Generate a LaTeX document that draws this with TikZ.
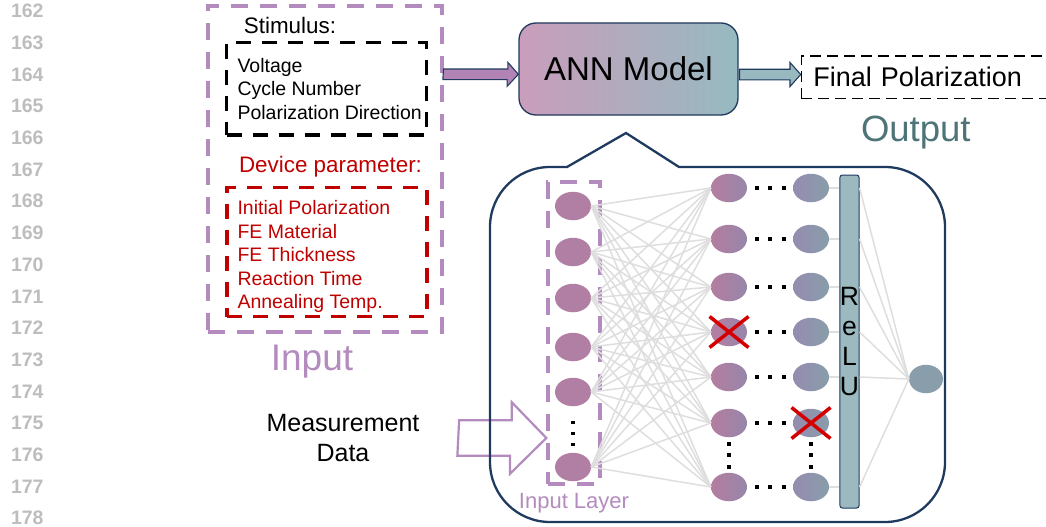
\documentclass[tikz,border=0pt]{standalone}
\usepackage{fontspec}
\setmainfont{Liberation Sans}
\usetikzlibrary{positioning, calc, shapes.geometric}

\definecolor{lav}{HTML}{B38BBE}
\definecolor{navy}{HTML}{1F3A5F}
\definecolor{devred}{HTML}{C00000}
\definecolor{xred}{HTML}{D40000}
\definecolor{linkgray}{HTML}{DEDEDE}
\definecolor{lngray}{HTML}{BDBDBD}
\definecolor{annL}{HTML}{C99DBB}
\definecolor{annR}{HTML}{96BAC0}
\definecolor{inarr}{HTML}{B283B5}
\definecolor{outarr}{HTML}{97B9BF}
\definecolor{inN}{HTML}{B07FA3}
\definecolor{hL}{HTML}{B47DA0}
\definecolor{hR}{HTML}{9687AA}
\definecolor{gL}{HTML}{968CAF}
\definecolor{gR}{HTML}{879EAA}
\definecolor{outN}{HTML}{8A9DAB}
\definecolor{reluC}{HTML}{9BB9BE}
\definecolor{outT}{HTML}{4E7478}

\begin{document}
\begin{tikzpicture}[x=1pt, y=-1pt,
    lineno/.style={text=lngray, inner sep=0pt, font=\bfseries\fontsize{19.5}{20}\selectfont},
    thickdash/.style={draw, line width=3.5pt, dash pattern=on 15pt off 11pt},
    listtext/.style={anchor=north west, inner sep=0pt, align=left, font=\fontsize{19.5}{23.6}\selectfont},
    headline/.style={font=\fontsize{22.4}{24}\selectfont},
    neuron/.style={ellipse, inner sep=0pt, minimum width=36pt, minimum height=28.5pt},
    link/.style={draw=linkgray, line width=1.5pt},
    blockarrow/.style={draw=navy, line width=1.1pt, line join=miter},
    redcross/.style={draw=xred, line width=3.5pt}]

  \useasboundingbox (0,0) rectangle (1046,527);
  \clip (0,0) rectangle (1046,527);

  % line numbers of the page
  \foreach \n [count=\k from 0] in {162,...,178}
    \node[lineno] (ln\n) at (27.3,11+31.7*\k) {\n};

  % input side
  \node[thickdash, draw=lav, line width=4pt, dash pattern=on 17pt off 12pt,
    minimum width=234pt, minimum height=326.3pt] (input) at (325,168.85) {};
  \node[headline] (stimlbl) at (290,25) {Stimulus:};
  \node[thickdash, draw=black, minimum width=200pt, minimum height=92.3pt] (stim) at (326.6,88.85) {};
  \node[listtext] (stimtext) at (237.3,57.8) {Voltage\\Cycle Number\\Polarization Direction};
  \node[headline, text=devred] (devlbl) at (330.5,166.5) {Device parameter:};
  \node[thickdash, draw=devred, minimum width=200pt, minimum height=129.4pt] (device) at (326.85,252) {};
  \node[listtext, text=devred] (devtext) at (237.3,200.1)
    {Initial Polarization\\FE Material\\FE Thickness\\Reaction Time\\Annealing Temp.};
  \node[text=lav, font=\fontsize{37}{40}\selectfont, anchor=base] (inlbl) at (312,370.7) {Input};
  \node[align=center, inner sep=0pt, font=\fontsize{25}{30}\selectfont] (meas) at (343,438)
    {Measurement\\Data};

  % model and output
  \node[draw=navy, line width=1.3pt, rounded corners=17pt, left color=annL, right color=annR,
    minimum width=219pt, minimum height=92pt, font=\fontsize{33}{36}\selectfont] (ann)
    at (628.5,69) {ANN Model};
  \node[draw, line width=1.3pt, dash pattern=on 11pt off 6pt, anchor=west, minimum height=42.3pt,
    text width=228pt, inner xsep=12pt, align=left, font=\fontsize{27}{30}\selectfont] (final)
    at (800.7,77.2) {Final Polarization};
  \node[text=outT, font=\fontsize{36.5}{40}\selectfont, anchor=base] (outlbl) at (915.8,141.7) {Output};

  \coordinate (inA) at (443.5,74.3);
  \coordinate (outA) at (739.5,74.5);
  \draw[blockarrow, fill=inarr] (inA) ++(0,-5.3) -- ++(64.3,0) -- ++(0,-6.7) -- (ann.west |- inA)
    -- ++(-11.2,12) -- ++(0,-6.7) -- ++(-64.3,0) -- cycle;
  \draw[blockarrow, fill=outarr] (outA) ++(0,-5.3) -- ++(50.5,0) -- ++(0,-6.7) -- (final.west |- outA)
    -- ++(-10.7,12) -- ++(0,-6.7) -- ++(-50.5,0) -- cycle;

  % network
  \node[draw=lav, line width=3.3pt, dash pattern=on 17pt off 12pt,
    minimum width=52pt, minimum height=302pt] (inlayer) at (574,333) {};
  \node[below=8pt of inlayer, inner sep=0pt, text=lav, font=\fontsize{22}{24}\selectfont]
    (inlayerlbl) {Input Layer};
  \foreach \y [count=\k] in {206,252,298,347,392,467}
    \node[neuron, fill=inN] (i\k) at (573,\y) {};
  \foreach \y [count=\k] in {188,239,287,332,377,423,487} {
    \node[neuron, left color=hL, right color=hR] (h\k) at (729,\y) {};
    \node[neuron, left color=gL, right color=gR] (g\k) at (811,\y) {};
  }
  \node[draw=navy, line width=1pt, fill=reluC, rounded corners=2.5pt, minimum width=19pt,
    minimum height=333pt, inner sep=0pt, align=center, font=\fontsize{26.5}{30}\selectfont]
    (relu) at (849.5,341.5) {R\\e\\L\\U};
  \node[neuron, fill=outN, minimum width=34pt] (o) at (926,379) {};

  \foreach \a in {1,...,6}
    \foreach \b in {1,...,7}
      \draw[link] (i\a.east) -- (h\b.west);
  \foreach \b in {1,2,3,4,5,7} {
    \draw[link] (g\b.east) -- (g\b -| relu.west);
    \draw[link] (relu.east |- g\b) -- (o.west);
  }

  % dots
  \foreach \b in {1,...,7}
    \foreach \dx in {-13.5,0,13.5}
      \fill ($(h\b)!.5!(g\b)+(\dx,0)$) +(-2,-2) rectangle +(2,2);
  \foreach \c in {h,g}
    \foreach \dy in {-11.5,0,11.5}
      \fill ($(\c6)!.5!(\c7)+(0,\dy)$) +(-2,-2) rectangle +(2,2);
  \foreach \dy in {-11,0,11}
    \fill ($(i5)!.55!(i6)+(0,\dy)$) +(-1.7,-1.7) rectangle +(1.7,1.7);

  % dropped neurons
  \foreach \n in {h4,g6}
    \draw[redcross] (\n) +(-19.5,-15.5) -- +(19.5,15.5) +(-19.5,15.5) -- +(19.5,-15.5);

  \coordinate (mA) at ($(meas.east)+(39.5,0)$);
  \draw[draw=lav, line width=2.2pt] (mA) ++(0,-17.7) -- ++(52.7,0) -- ++(0,-18) -- (inlayer.west |- mA)
    -- ++(-36.3,35.7) -- ++(0,-18) -- ++(-52.7,0) -- cycle;

  % callout round the network
  \draw[navy, line width=2.3pt, line join=miter] (626,133) -- (679,167) -- (885,167)
    arc[start angle=90, end angle=0, radius=60pt] -- (945,462)
    arc[start angle=0, end angle=-90, radius=60pt] -- (550,522)
    arc[start angle=270, end angle=180, radius=60pt] -- (490,227)
    arc[start angle=180, end angle=90, radius=60pt] -- (567,167) -- cycle;
\end{tikzpicture}
\end{document}
